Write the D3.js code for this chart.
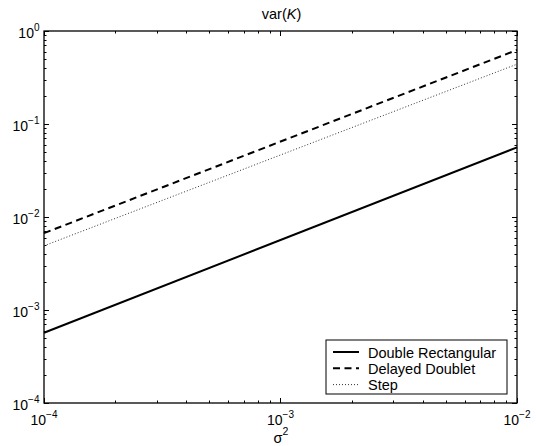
<!DOCTYPE html>
<html>
<head>
<meta charset="utf-8">
<script src="https://cdn.jsdelivr.net/npm/d3@7"></script>
<style>
  body { margin: 0; background: #fff; }
  text { font-family: "Liberation Sans", Arial, sans-serif; fill: #000; }
</style>
</head>
<body>
<div class="chart"></div>
<script>
// sigma^2 at the two ends of each (straight, log-log) line
const sigma2 = [1e-4, 1e-2];
const doubleRect = [5.7e-4, 5.6e-2];
const delayedDoublet = [6.7e-3, 0.625];
const step = [4.9e-3, 0.44];
const seriesNames = ['Double Rectangular', 'Delayed Doublet', 'Step'];
const xTickExp = [-4, -3, -2];
const yTickExp = [-4, -3, -2, -1, 0];

const margin = ({top: 31, right: 19, bottom: 43, left: 44});
const W = 536, H = 446;
const width = W - margin.left - margin.right,
    height = H - margin.top - margin.bottom;

const svg = d3.select('.chart').append('svg')
    .attr('width', W)
    .attr('height', H)
    .append('g')
    .attr('transform', `translate(${margin.left},${margin.top})`);

const xScale = d3.scaleLog().domain([1e-4, 1e-2]).range([0, width]);
const yScale = d3.scaleLog().domain([1e-4, 1]).range([height, 0]);

// minor/major ticks
function logTicks(lo, hi) {
    const out = [];
    for (let e = lo; e < hi; e++)
        for (let m = 1; m < 10; m++) out.push({v: m * Math.pow(10, e), major: m === 1});
    out.push({v: Math.pow(10, hi), major: true});
    return out;
}
const xt = logTicks(-4, -2), yt = logTicks(-4, 0);
const tk = svg.append('g').attr('stroke', '#000').attr('stroke-width', 1);
xt.forEach(t => {
    const x = Math.round(xScale(t.v)) + 0.5, L = t.major ? 5 : 2.5;
    tk.append('line').attr('x1', x).attr('x2', x).attr('y1', height).attr('y2', height - L);
    tk.append('line').attr('x1', x).attr('x2', x).attr('y1', 0).attr('y2', L);
});
yt.forEach(t => {
    const y = Math.round(yScale(t.v)) + 0.5, L = t.major ? 5 : 2.5;
    tk.append('line').attr('y1', y).attr('y2', y).attr('x1', 0).attr('x2', L);
    tk.append('line').attr('y1', y).attr('y2', y).attr('x1', width).attr('x2', width - L);
});

svg.append('rect')
    .attr('x', 0).attr('y', 0)
    .attr('width', width).attr('height', height)
    .attr('fill', 'none').attr('stroke', '#000').attr('stroke-width', 1.3);

// tick labels
function powLabel(sel, e) {
    sel.append('tspan').text('10').attr('font-size', 14);
    sel.append('tspan').text(e < 0 ? '\u2212' + (-e) : e)
        .attr('font-size', 10).attr('dy', -7);
}
xTickExp.forEach(e => {
    const t = svg.append('text')
        .attr('x', xScale(Math.pow(10, e)))
        .attr('y', height + 22)
        .attr('text-anchor', 'middle');
    powLabel(t, e);
});
yTickExp.forEach(e => {
    const t = svg.append('text')
        .attr('x', -4.5)
        .attr('y', yScale(Math.pow(10, e)) + 7)
        .attr('text-anchor', 'end');
    powLabel(t, e);
});

// title and axis label
const title = svg.append('text')
    .attr('x', width / 2 + 1).attr('y', -12.5)
    .attr('text-anchor', 'middle').attr('font-size', 14.5);
title.append('tspan').text('var(');
title.append('tspan').text('K').attr('font-style', 'italic');
title.append('tspan').text(')');

const xl = svg.append('text')
    .attr('x', width / 2 + 0.5).attr('y', height + 39.5)
    .attr('text-anchor', 'middle');
xl.append('tspan').text('\u03c3').attr('font-size', 14.5);
xl.append('tspan').text('2').attr('font-size', 10.5).attr('dy', -8);

// lines
const styles = [
    {data: doubleRect, dash: null, w: 2, c: '#000'},
    {data: delayedDoublet, dash: '7,4.5', w: 2, c: '#000'},
    {data: step, dash: '1,2', w: 1, c: '#333'}
];
const line = d3.line().x((d, i) => xScale(sigma2[i])).y(d => yScale(d));
styles.forEach(s => {
    svg.append('path')
        .attr('d', line(s.data))
        .attr('fill', 'none')
        .attr('stroke', s.c)
        .attr('stroke-width', s.w)
        .attr('stroke-dasharray', s.dash);
});

// legend
const lx = 326 - margin.left, ly = 340 - margin.top;
svg.append('rect')
    .attr('x', lx).attr('y', ly)
    .attr('width', 181).attr('height', 54)
    .attr('fill', '#fff').attr('stroke', '#000').attr('stroke-width', 1);
seriesNames.forEach((name, i) => {
    const y = ly + 12 + i * 16.3;
    svg.append('line')
        .attr('x1', lx + 7).attr('x2', lx + 33)
        .attr('y1', y).attr('y2', y)
        .attr('stroke', styles[i].c)
        .attr('stroke-width', styles[i].w)
        .attr('stroke-dasharray', styles[i].dash);
    svg.append('text')
        .text(name)
        .attr('x', lx + 42).attr('y', y + 5.5)
        .attr('font-size', 14.5);
});
</script>
</body>
</html>
